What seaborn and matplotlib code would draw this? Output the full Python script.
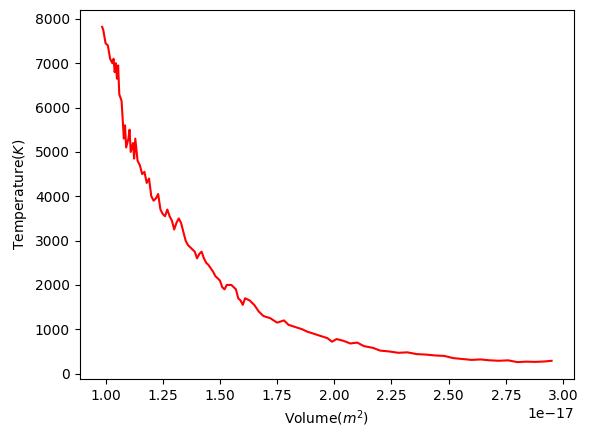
import matplotlib
matplotlib.use("Agg")
import matplotlib.pyplot as plt
import seaborn as sns
import numpy as np
import pandas as pd

volume = [0.985,0.99,1.00,1.01,1.02,1.03,1.035,1.04,1.045,1.05,1.055,1.06,1.07,1.08,1.085,1.09,1.10,1.105,1.11,1.12,1.125,1.13,1.14,1.15,1.16,1.17,1.18,1.19,1.20,1.21,1.22,1.23,1.24,1.25,1.26,1.27,1.28,1.29,1.30,1.31,1.32,1.33,1.34,1.35,1.36,1.37,1.38,1.39,1.40,1.41,1.42,1.43,1.44,1.45,1.47,1.48,1.50,1.51,1.52,1.53,1.55,1.57,1.58,1.59,1.60,1.61,1.63,1.65,1.67,1.69,1.72,1.75,1.78,1.80,1.83,1.86,1.88,1.91,1.94,1.97,1.99,2.01,2.04,2.07,2.10,2.13,2.17,2.20,2.24,2.28,2.32,2.36,2.40,2.44,2.48,2.52,2.56,2.60,2.64,2.68,2.72,2.76,2.80,2.84,2.88,2.92,2.95]
temperature = [7820,7750,7450,7400,7100,7000,7100,6800,7000,6650,6950,6300,6150,5300,5600,5100,5300,5500,5000,5200,4850,5300,4800,4700,4500,4550,4300,4400,4000,3900,3950,4050,3700,3600,3550,3700,3550,3450,3250,3400,3500,3400,3200,3000,2900,2850,2800,2750,2600,2700,2750,2600,2500,2450,2300,2200,2100,1950,1900,2000,2000,1900,1700,1650,1550,1700,1650,1550,1400,1300,1250,1150,1200,1100,1050,1000,950,900,850,800,720,780,740,680,700,620,580,520,500,470,480,440,430,410,400,350,330,310,320,300,290,300,260,270,265,275,290]

df = pd.DataFrame({"v": np.array(volume) * 1e-17, "t": temperature})
fig, ax = plt.subplots(figsize=(5.9, 4.38), dpi=100)
sns.lineplot(data=df, x="v", y="t", color="red", ax=ax, estimator=None, sort=False)
ax.set_xlabel("Volume($m^2$)")
ax.set_ylabel("Temperature($K$)")
fig.subplots_adjust(left=0.135, right=0.973, bottom=0.135, top=0.977)
fig.savefig("out.png", dpi=100)
